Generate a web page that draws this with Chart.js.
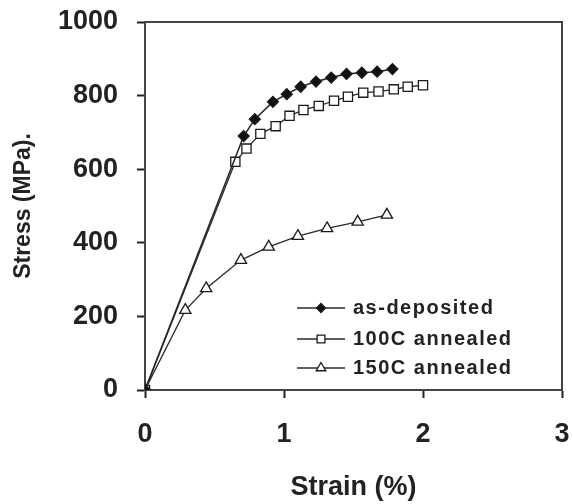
<!DOCTYPE html>
<html>
<head>
<meta charset="utf-8">
<script src="https://cdn.jsdelivr.net/npm/chart.js@4.4.1/dist/chart.umd.min.js"></script>
<style>
  html, body { margin: 0; padding: 0; background: #ffffff; }
  #wrap { width: 573px; height: 504px; position: relative; }
</style>
</head>
<body>
<div id="wrap"><canvas id="c" width="573" height="504"></canvas></div>
<script>
// ---- Data ----
const seriesNames = ['as-deposited', '100C annealed', '150C annealed'];

const asDepStrain = [0, 0.71, 0.79, 0.92, 1.02, 1.12, 1.23, 1.34, 1.45, 1.56, 1.67, 1.78];
const asDepStress = [0, 690, 736, 783, 804, 824, 838, 849, 859, 862, 865, 872];

const ann100Strain = [0, 0.65, 0.73, 0.83, 0.94, 1.04, 1.14, 1.25, 1.36, 1.46, 1.57, 1.68, 1.79, 1.89, 2.0];
const ann100Stress = [0, 620, 656, 696, 717, 745, 761, 772, 786, 797, 808, 811, 817, 824, 828];

const ann150Strain = [0, 0.29, 0.44, 0.69, 0.89, 1.10, 1.31, 1.53, 1.74];
const ann150Stress = [0, 217, 276, 353, 389, 418, 439, 457, 476];

const xTicks = [0, 1, 2, 3];
const yTicks = [0, 200, 400, 600, 800, 1000];

function pts(xs, ys) { return xs.map((x, i) => ({ x: x, y: ys[i] })); }

const styles = [
  { pointStyle: 'rectRot', radius: 5.5, fill: '#111111', legendRadius: 4.5 },
  { pointStyle: 'rect', radius: 6.5, fill: '#ffffff', legendRadius: 5.5 },
  { pointStyle: 'triangle', radius: 6.5, fill: '#ffffff', legendRadius: 5.5 }
];

const datasets = [
  pts(asDepStrain, asDepStress),
  pts(ann100Strain, ann100Stress),
  pts(ann150Strain, ann150Stress)
].map((d, i) => ({
  label: seriesNames[i],
  data: d,
  showLine: true,
  tension: 0,
  borderColor: '#2a2a2a',
  borderWidth: i === 0 ? 1.6 : 1.3,
  pointStyle: styles[i].pointStyle,
  pointRadius: styles[i].radius,
  pointBackgroundColor: styles[i].fill,
  pointBorderColor: '#1a1a1a',
  pointBorderWidth: 1.3
}));

const framePlugin = {
  id: 'frame',
  beforeDatasetsDraw(chart) {
    const { ctx, chartArea: a } = chart;
    ctx.save();
    ctx.strokeStyle = '#444444';
    ctx.lineWidth = 2;
    ctx.strokeRect(a.left, a.top, a.right - a.left, a.bottom - a.top);
    ctx.restore();
  }
};

const legendPlugin = {
  id: 'insetLegend',
  afterDraw(chart) {
    const { ctx } = chart;
    const rowsY = [308, 339, 368];
    const x0 = 297, x1 = 345, xm = 321, tx = 353;
    ctx.save();
    chart.data.datasets.forEach((ds, i) => {
      const y = rowsY[i];
      ctx.strokeStyle = '#2a2a2a';
      ctx.lineWidth = 1.4;
      ctx.beginPath();
      ctx.moveTo(x0, y);
      ctx.lineTo(x1, y);
      ctx.stroke();
      ctx.fillStyle = styles[i].fill;
      ctx.strokeStyle = '#1a1a1a';
      ctx.lineWidth = 1.3;
      Chart.helpers.drawPoint(ctx, {
        pointStyle: styles[i].pointStyle,
        radius: styles[i].legendRadius,
        rotation: 0,
        borderWidth: 1.3
      }, xm, y);
      ctx.fillStyle = '#222222';
      ctx.font = 'bold 20px "Liberation Sans", Arial, sans-serif';
      ctx.letterSpacing = '1.5px';
      ctx.textBaseline = 'middle';
      ctx.textAlign = 'left';
      ctx.fillText(ds.label, tx, y);
    });
    ctx.restore();
  }
};

const tickFont = { family: '"Liberation Sans", Arial, sans-serif', size: 27, weight: 'bold' };

new Chart(document.getElementById('c'), {
  type: 'scatter',
  data: { datasets: datasets },
  options: {
    responsive: false,
    animation: false,
    devicePixelRatio: 1,
    layout: { padding: { left: 0, right: 11, top: 22, bottom: 0 } },
    plugins: {
      legend: { display: false },
      tooltip: { enabled: false }
    },
    scales: {
      x: {
        type: 'linear',
        min: 0, max: 3,
        afterBuildTicks: (s) => { s.ticks = xTicks.map(v => ({ value: v })); },
        afterFit: (s) => { s.height = 114; s.paddingLeft = 0; s.paddingRight = 0; },
        ticks: {
          color: '#222222',
          padding: 20,
          callback: (v) => String(v),
          font: tickFont
        },
        grid: { display: true, drawOnChartArea: false, drawTicks: true, tickLength: 8, tickColor: '#222222', tickWidth: 2 },
        border: { display: true, color: '#111111', width: 2 },
        title: {
          display: true,
          text: 'Strain (%)',
          color: '#222222',
          padding: { top: 0, bottom: 0 },
          font: { family: '"Liberation Sans", Arial, sans-serif', size: 27, weight: 'bold' }
        }
      },
      y: {
        type: 'linear',
        min: 0, max: 1000,
        afterBuildTicks: (s) => { s.ticks = yTicks.map(v => ({ value: v })); },
        afterFit: (s) => { s.width = 145; s.paddingTop = 0; s.paddingBottom = 0; },
        ticks: {
          color: '#222222',
          padding: 19,
          callback: (v) => String(v),
          font: tickFont
        },
        grid: { display: true, drawOnChartArea: false, drawTicks: true, tickLength: 8, tickColor: '#222222', tickWidth: 2 },
        border: { display: true, color: '#111111', width: 2 },
        title: {
          display: true,
          text: 'Stress (MPa).',
          color: '#222222',
          padding: { top: 10, bottom: 0 },
          font: { family: '"Liberation Sans", Arial, sans-serif', size: 23, weight: 'bold' }
        }
      }
    }
  },
  plugins: [framePlugin, legendPlugin]
});
</script>
</body>
</html>
